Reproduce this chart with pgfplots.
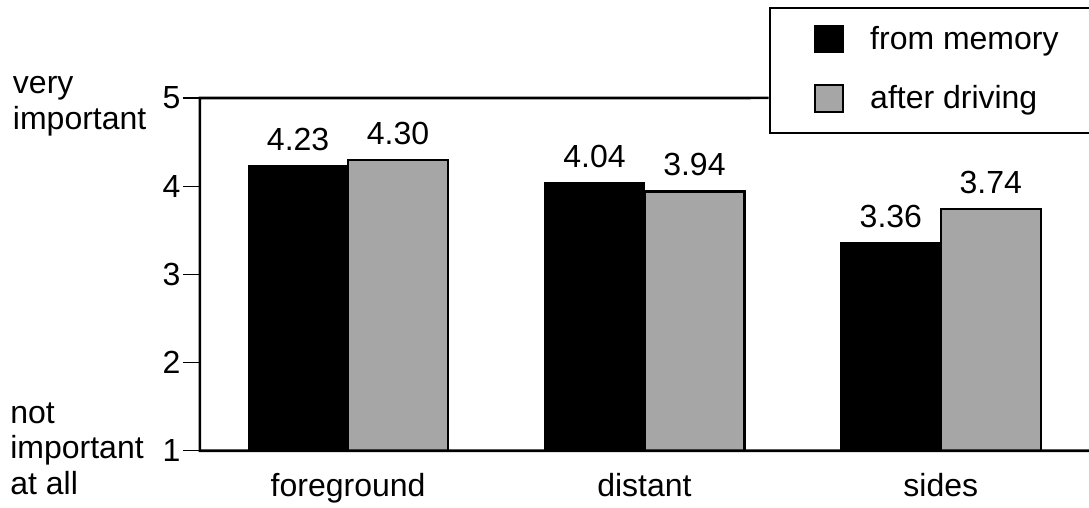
\documentclass[border=0pt]{standalone}
\usepackage{fontspec}
\setmainfont{Liberation Sans}
\usepackage{pgfplots}
\pgfplotsset{compat=1.18}
\newcommand{\ff}{\fontsize{16}{19}\selectfont}
\definecolor{bargray}{gray}{0.65}
\begin{document}
\begin{tikzpicture}[font=\ff]
\begin{axis}[
  name=ax,
  at={(0,0)}, anchor=south west,
  scale only axis,
  width=444.75pt, height=176.5pt,
  xmin=-0.5, xmax=2.5,
  ymin=1, ymax=5,
  ybar=0pt, bar width=50pt,
  xtick={0,1,2},
  xticklabels={foreground,distant,sides},
  ytick={1,2,3,4,5},
  axis line style={draw=none},
  tick align=outside,
  major tick length=8.5pt,
  ytick pos=left,
  xtick style={draw=none},
  ytick style={line width=0.6pt, black},
  /pgf/number format/assume math mode=true,
  tick label style={font=\ff},
  xticklabel style={anchor=base, yshift=-14.5pt, inner sep=0pt},
  yticklabel style={anchor=east, inner sep=0pt, xshift=-1pt},
  nodes near coords={\pgfmathprintnumber[fixed,fixed zerofill,precision=2]{\pgfplotspointmeta}},
  every node near coord/.append style={font=\ff, inner sep=0pt, anchor=south, yshift=7pt},
  legend style={
    at={(284.5pt,222pt)}, anchor=north west,
    draw=black, line width=1.2pt, fill=white,
    inner xsep=22pt, inner ysep=8.5pt,
    font=\ff,
    row sep=13.5pt,
    nodes={inner sep=0pt, text height=12pt, text depth=3.5pt},
    /tikz/every odd column/.append style={column sep=13pt},
  },
  legend cell align=left,
  legend image code/.code={\path[#1] (0pt,-5.75pt) rectangle (14pt,7.75pt);},
]
\addplot[fill=black, draw=black, line width=0.6pt] coordinates {(0,4.23) (1,4.04) (2,3.36)};
\addlegendentry{from memory}
\addplot[fill=bargray, draw=black, line width=1.2pt] coordinates {(0,4.30) (1,3.94) (2,3.74)};
\addlegendentry{after driving}
\end{axis}
\draw[line width=1.3pt] (ax.south east) -- (ax.south west) -- (ax.north west) -- (284.5pt,176.5pt);
\node[anchor=base west, inner sep=0pt] at (-93.7pt,178.5pt) {very};
\node[anchor=base west, inner sep=0pt] at (-93.7pt,160.5pt) {important};
\node[anchor=base west, inner sep=0pt] at (-95pt,13.5pt) {not};
\node[anchor=base west, inner sep=0pt] at (-95pt,-4pt) {important};
\node[anchor=base west, inner sep=0pt] at (-95pt,-22pt) {at all};
\pgfresetboundingbox
\path[use as bounding box] (-100pt,-28.5pt) rectangle (444.75pt,225.5pt);
\end{tikzpicture}
\end{document}
